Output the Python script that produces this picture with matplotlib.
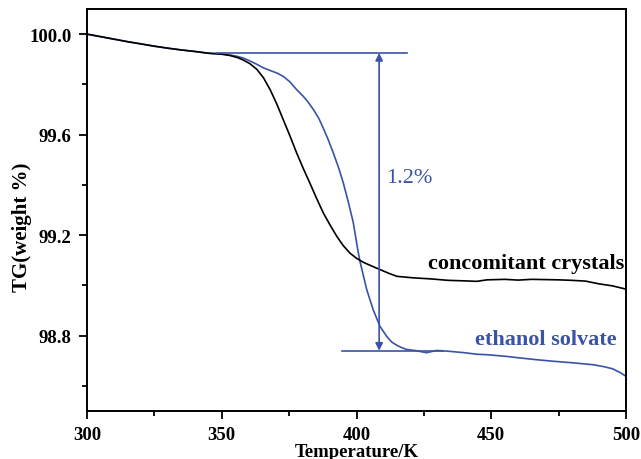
"""TG curves of the concomitant crystals and the ethanol solvate."""
import matplotlib
matplotlib.use("Agg")
import matplotlib.pyplot as plt
from matplotlib.ticker import MultipleLocator, FormatStrFormatter

# Values
temp_conc = [300, 305, 310, 315, 320, 325, 330, 335, 340, 345, 350, 353, 356, 358,
             360.5, 363, 365.5, 368, 370.5, 372.8, 375.3, 377.8, 380.3, 382.7, 385.2,
             387.7, 390.2, 392.7, 395.1, 397.6, 400, 402.5, 405, 408.7, 412, 415, 421,
             427.3, 434, 440, 444.6, 448.4, 455, 460, 465, 470, 475, 480, 485, 490,
             495, 500]
tg_conc = [100.0, 99.99, 99.98, 99.97, 99.961, 99.952, 99.944, 99.937, 99.931, 99.924,
           99.920, 99.915, 99.906, 99.897, 99.882, 99.860, 99.826, 99.778, 99.72, 99.66,
           99.595, 99.527, 99.464, 99.407, 99.346, 99.288, 99.240, 99.195, 99.158,
           99.128, 99.108, 99.092, 99.080, 99.063, 99.048, 99.036, 99.030, 99.026,
           99.020, 99.018, 99.016, 99.022, 99.024, 99.021, 99.024, 99.023, 99.022,
           99.020, 99.017, 99.006, 98.998, 98.985]

temp_eth = [300, 305, 310, 315, 320, 325, 330, 335, 340, 345, 350, 353, 355.5, 358,
            360.5, 363, 365.4, 368, 370.5, 372.8, 375.3, 377.8, 380.3, 382, 384, 386,
            387.7, 389.5, 391.4, 393.3, 395.1, 397, 398.8, 400.5, 401.3, 403.8, 406.2,
            408.7, 411.2, 413, 414.9, 416.8, 418.6, 422.3, 424, 426, 428, 429.8, 434,
            440, 444.6, 448.4, 455, 460, 466, 473, 480, 485, 488, 492, 495, 498, 500]
tg_eth = [100.0, 99.99, 99.98, 99.97, 99.961, 99.952, 99.944, 99.937, 99.931, 99.924,
          99.921, 99.917, 99.912, 99.905, 99.893, 99.880, 99.866, 99.855, 99.845,
          99.832, 99.810, 99.779, 99.752, 99.730, 99.700, 99.665, 99.625, 99.580,
          99.527, 99.470, 99.408, 99.33, 99.25, 99.14, 99.095, 98.983, 98.903, 98.837,
          98.797, 98.775, 98.762, 98.752, 98.745, 98.740, 98.736, 98.732, 98.737,
          98.741, 98.738, 98.732, 98.726, 98.724, 98.718, 98.712, 98.705, 98.698,
          98.692, 98.687, 98.684, 98.676, 98.668, 98.652, 98.638]

# Step annotation (start/end level of the ethanol solvate weight loss)
step_top = 99.925
step_bottom = 98.74
step_temp = 408.4
top_line = [348, 418.7]
bottom_line = [394.5, 432]

BLUE = "#3953a6"

plt.rcParams["font.family"] = ["Liberation Serif", "DejaVu Serif"]

fig = plt.figure(figsize=(6.41, 4.6), dpi=100)
ax = fig.add_axes([87 / 641, 1 - 412 / 460, (626 - 87) / 641, (412 - 10) / 460])

ax.plot(temp_eth, tg_eth, color=BLUE, lw=1.2, solid_joinstyle="round")
ax.plot(temp_conc, tg_conc, color="black", lw=1.2, solid_joinstyle="round")

ax.plot(top_line, [step_top, step_top], color=BLUE, lw=1.2)
ax.plot(bottom_line, [step_bottom, step_bottom], color=BLUE, lw=1.2)
ax.annotate("", xy=(step_temp, step_top), xytext=(step_temp, step_bottom),
            arrowprops=dict(arrowstyle="<|-|>", color=BLUE, lw=1.2,
                            mutation_scale=11, shrinkA=0, shrinkB=0))
ax.text(step_temp + 2.6, 99.43, "1.2%", color=BLUE, fontsize=16,
        ha="left", va="center")

ax.text(499.3, 99.09, "concomitant crystals", color="black", fontsize=16,
        fontweight="bold", ha="right", va="center")
ax.text(496.7, 98.785, "ethanol solvate", color=BLUE, fontsize=16,
        fontweight="bold", ha="right", va="center")

ax.set_xlim(300, 500)
ax.set_ylim(98.5, 100.1)
ax.xaxis.set_major_locator(MultipleLocator(50))
ax.xaxis.set_minor_locator(MultipleLocator(25))
ax.yaxis.set_major_locator(MultipleLocator(0.4))
ax.yaxis.set_minor_locator(MultipleLocator(0.2))
ax.yaxis.set_major_formatter(FormatStrFormatter("%.1f"))

ax.tick_params(which="major", direction="out", length=6, width=1.3,
               labelsize=13.5, pad=5)
ax.tick_params(which="minor", direction="out", length=3.5, width=1.3)
for lab in ax.get_xticklabels() + ax.get_yticklabels():
    lab.set_fontweight("bold")
for sp in ax.spines.values():
    sp.set_linewidth(1.4)

ax.set_xlabel("Temperature/K", fontsize=13.5, fontweight="bold", labelpad=0)
fig.text(22 / 641, 1 - 227 / 460, "TG(weight %)", fontsize=15, fontweight="bold",
         rotation=90, ha="center", va="center")

fig.savefig("out.png", dpi=100)
